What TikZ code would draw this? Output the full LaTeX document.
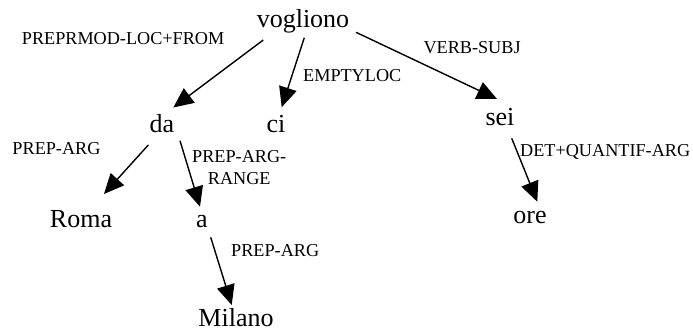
\documentclass[tikz,border=0pt]{standalone}
\usepackage{fontspec}
\setmainfont{Liberation Serif}
\usetikzlibrary{arrows.meta}
\tikzset{
  word/.style={inner sep=0pt, anchor=base, font=\fontsize{26}{30}\selectfont},
  rel/.style={inner sep=0pt, anchor=base west, font=\fontsize{18.2}{22}\selectfont},
  dep/.style={line width=1.4pt, -{Triangle[length=20pt,width=18pt]}}
}
\begin{document}
\begin{tikzpicture}[x=1pt,y=-1pt]
\useasboundingbox (0,0) rectangle (693,331);
% words
\node[word] (vogliono) at (303,28) {vogliono};
\node[word] (da) at (162,133) {da};
\node[word] (ci) at (276,133) {ci};
\node[word] (sei) at (500,126) {sei};
\node[word] (roma) at (81,227) {Roma};
\node[word] (a) at (202,227) {a};
\node[word] (milano) at (236,326.5) {Milano};
\node[word] (ore) at (530,223) {ore};
% relation labels
\node[rel] (l1) at (21.7,45) {PREPRMOD-LOC+FROM};
\node[rel] (l2) at (303,82) {EMPTYLOC};
\node[rel] (l3) at (423.3,53.3) {VERB-SUBJ};
\node[rel] (l4) at (12.3,155) {PREP-ARG};
\node[rel, align=center, anchor=north west] (l5) at (192,150) {PREP-ARG-\\RANGE};
\node[rel] (l6) at (231,256.7) {PREP-ARG};
\node[rel] (l7) at (520,157) {DET+QUANTIF-ARG};
% connectors
\draw[dep] ([shift={(-39.7,12)}]vogliono.base) -- ([shift={(11.3,-25.5)}]da.base);
\draw[dep] ([shift={(1.3,9.7)}]vogliono.base) -- ([shift={(5.7,-25.8)}]ci.base);
\draw[dep] ([shift={(53,4.3)}]vogliono.base) -- ([shift={(-3,-27)}]sei.base);
\draw[dep] ([shift={(-13.7,12)}]da.base) -- ([shift={(23,-33)}]roma.base);
\draw[dep] ([shift={(18,7.7)}]da.base) -- ([shift={(-2,-20.3)}]a.base);
\draw[dep] ([shift={(8.7,10.3)}]a.base) -- ([shift={(-4.3,-21.5)}]milano.base);
\draw[dep] ([shift={(11.7,12.3)}]sei.base) -- ([shift={(7.3,-21.3)}]ore.base);
\end{tikzpicture}
\end{document}
